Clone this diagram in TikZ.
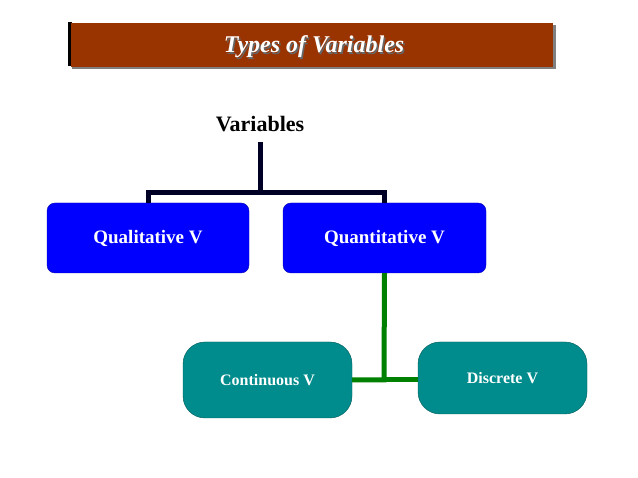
\documentclass[tikz,border=0pt]{standalone}
\usepackage{fontspec}
\setmainfont{Liberation Serif}
\begin{document}
\begin{tikzpicture}[x=1pt,y=-1pt,
  bluebox/.style={draw=blue!70!black,fill=blue,rounded corners=8pt,text=white,font=\fontsize{19}{22}\selectfont\bfseries},
  tealbox/.style={draw=teal!70!black,fill=teal!90!cyan,rounded corners=22pt,text=white,font=\fontsize{16}{19}\selectfont\bfseries},
  blk/.style={line width=5pt,black!85!blue},
  grn/.style={line width=5pt,green!50!black}]
\useasboundingbox (0,0) rectangle (638,478);
\fill[gray] (72,25) rectangle (556,69);
\fill[black] (68,22) rectangle (72,66);
\node[fill={rgb,255:red,153;green,51;blue,0},minimum width=482,minimum height=44,inner sep=0] (title) at (312,45) {};
\node[text=black!60,font=\fontsize{24}{28}\selectfont\bfseries\itshape] at (315.5,48.5) {Types of Variables};
\node[text=white,font=\fontsize{24}{28}\selectfont\bfseries\itshape] (tt) at (314,47) {Types of Variables};
\node[font=\fontsize{22}{26}\selectfont\bfseries] (var) at (260,124) {Variables};
\node[bluebox,minimum width=202,minimum height=70] (qual) at (148,238) {Qualitative V};
\node[bluebox,minimum width=203,minimum height=70] (quan) at (384.5,238) {Quantitative V};
\node[tealbox,minimum width=169,minimum height=76] (cont) at (267.5,380) {Continuous V};
\node[tealbox,minimum width=169,minimum height=72] (disc) at (502.5,378) {Discrete V};
\coordinate (j) at (260,193);
\draw[blk] (260,142) -- (j);
\draw[blk] (qual.north) ++(0,0) |- (j) -| (quan.north);
\coordinate (g) at (384,380);
\draw[grn] (quan.south) -- (g) -- (cont.east);
\draw[grn] (g) -- (disc.west |- g);
\end{tikzpicture}
\end{document}
